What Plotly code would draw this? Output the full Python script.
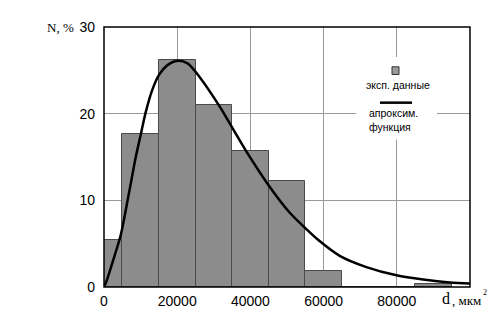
import plotly.graph_objects as go

# Histogram data (bin centres, % of grains)
bin_centers = [0, 10000, 20000, 30000, 40000, 50000, 60000, 70000, 80000, 90000]
bin_values = [5.4, 17.6, 26.2, 21.0, 15.7, 12.2, 1.8, 0.0, 0.0, 0.4]

# Approximating curve
curve_x = [0, 630, 2740, 4570, 6850, 8680, 10050, 11420, 13240, 15070, 17350, 20090,
           22830, 26000, 31500, 35150, 38800, 45200, 50700, 55250, 58900, 64400,
           71700, 79900, 87200, 94500, 100000]
curve_y = [0.0, 0.6, 3.4, 6.0, 10.9, 15.0, 17.6, 20.2, 22.8, 24.5, 25.6, 26.1,
           25.8, 24.3, 20.9, 18.3, 15.7, 11.6, 8.6, 6.7, 5.3, 3.6,
           2.3, 1.35, 0.86, 0.52, 0.41]

x_ticks = [0, 20000, 40000, 60000, 80000]
x_tick_text = ["0", "20000", "40000", "60000", "80000"]
y_ticks = [0, 10, 20, 30]

fig = go.Figure()
fig.add_trace(go.Bar(
    x=bin_centers, y=bin_values, width=10000,
    marker=dict(color="#8c8c8c", line=dict(color="#4a4a4a", width=1)),
    showlegend=False,
))
fig.add_trace(go.Scatter(
    x=curve_x, y=curve_y, mode="lines",
    line=dict(color="black", width=2.5, shape="spline", smoothing=0.8),
    showlegend=False, cliponaxis=True,
))

# The page body adds an 8px offset; compensate so the plot sits where the reference has it.
OFF = 8
W, H = 499 - OFF, 335 - OFF
L, R, T, B = 104 - OFF, 29, 19 - OFF, 48
PW, PH = W - L - R, H - T - B


def px(x):
    return (x - OFF - L) / PW


def py(y):
    return (H - B - (y - OFF)) / PH


shapes = [
    # legend white box
    dict(type="rect", xref="paper", yref="paper", x0=px(356), x1=px(437), y0=py(135), y1=py(50),
         fillcolor="white", line=dict(width=0), layer="above"),
    # legend bar icon
    dict(type="rect", xref="paper", yref="paper", x0=px(392), x1=px(399), y0=py(68), y1=py(60),
         fillcolor="#9a9a9a", line=dict(color="#333", width=1), layer="above"),
    # legend line
    dict(type="line", xref="paper", yref="paper", x0=px(380), x1=px(412), y0=py(97), y1=py(97),
         line=dict(color="black", width=2.5), layer="above"),
    # plot border
    dict(type="rect", xref="paper", yref="paper", x0=0, x1=1, y0=0, y1=1,
         line=dict(color="black", width=1.5), layer="above"),
]

lf = dict(family="Liberation Sans, Arial, sans-serif", size=10.5, color="black")
sf = dict(family="Liberation Serif, serif", size=13, color="black")
annotations = [
    dict(text="эксп. данные", x=px(398), y=py(79), xref="paper", yref="paper",
         showarrow=False, font=lf, xanchor="center", yanchor="middle"),
    dict(text="апроксим.", x=px(367), y=py(108), xref="paper", yref="paper",
         showarrow=False, font=lf, xanchor="left", yanchor="middle"),
    dict(text="функция", x=px(367), y=py(122), xref="paper", yref="paper",
         showarrow=False, font=lf, xanchor="left", yanchor="middle"),
    dict(text="N, %", x=px(76), y=py(19), xref="paper", yref="paper",
         showarrow=False, font=sf, xanchor="right", yanchor="middle"),
    dict(text="d", x=px(440), y=py(299), xref="paper", yref="paper",
         showarrow=False, font=dict(family="Liberation Serif, serif", size=16, color="black"),
         xanchor="left", yanchor="middle"),
    dict(text=", мкм", x=px(450), y=py(301), xref="paper", yref="paper",
         showarrow=False, font=dict(family="Liberation Serif, serif", size=13, color="black"),
         xanchor="left", yanchor="middle"),
    dict(text="2", x=px(481), y=py(293), xref="paper", yref="paper",
         showarrow=False, font=dict(family="Liberation Serif, serif", size=8, color="black"),
         xanchor="left", yanchor="middle"),
]

fig.update_layout(
    width=W, height=H,
    margin=dict(l=L, r=R, t=T, b=B),
    paper_bgcolor="white", plot_bgcolor="white",
    bargap=0,
    shapes=shapes,
    annotations=annotations,
    font=dict(family="Liberation Sans, Arial, sans-serif", size=14, color="black"),
    xaxis=dict(range=[0, 100000], tickvals=x_ticks, ticktext=x_tick_text,
               showgrid=True, gridcolor="#9a9a9a", gridwidth=1, zeroline=False,
               ticks="", showline=False, ticklabelstandoff=4),
    yaxis=dict(range=[0, 30], tickvals=y_ticks, showgrid=True, gridcolor="#9a9a9a",
               gridwidth=1, zeroline=False, ticks="", showline=False,
               ticklabelstandoff=8),
)

fig.write_html("out.html")
